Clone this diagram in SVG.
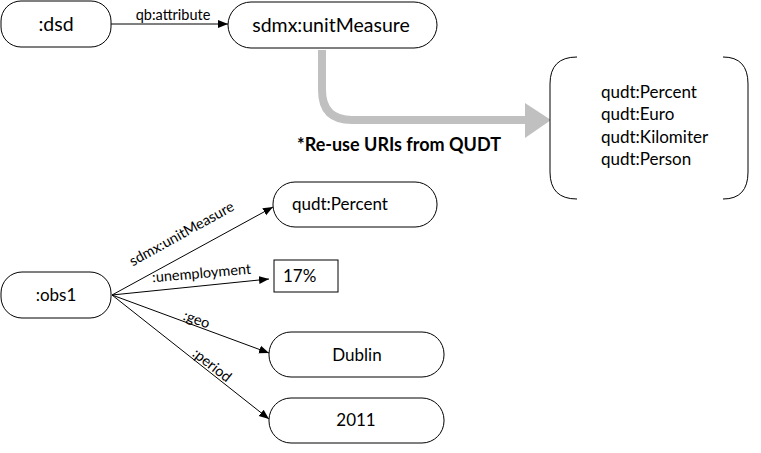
<svg xmlns="http://www.w3.org/2000/svg" width="761" height="453" viewBox="0 0 761 453">
<defs>
<style>
.node{fill:#fff;stroke:#000;stroke-width:1}
.t{font-family:Lato,"Liberation Sans",sans-serif;font-size:17px;fill:#000}
.tb{font-family:Lato,"Liberation Sans",sans-serif;font-size:19.5px;fill:#000}
.lbl{font-family:Lato,"Liberation Sans",sans-serif;font-size:14.5px;fill:#000}
.e{stroke:#000;stroke-width:1;fill:none;marker-end:url(#ah)}
</style>
<marker id="ah" viewBox="0 0 10 10" refX="10" refY="5" markerWidth="10" markerHeight="10" markerUnits="userSpaceOnUse" orient="auto">
<path d="M0,1 L10,5 L0,9 Z" fill="#000"/>
</marker>
</defs>
<rect width="761" height="453" fill="#fff"/>
<g id="connectors">
<line class="e" x1="111" y1="24" x2="228" y2="24"/>
<text class="lbl" x="173" y="20" text-anchor="middle" font-size="14px">qb:attribute</text>
<path d="M322,50 V90 Q322,120 352,120 H527" stroke="#c0c0c0" stroke-width="8" fill="none"/>
<path d="M525,103 L551,120 L525,138 Z" fill="#c0c0c0"/>
<line class="e" x1="112" y1="295" x2="273" y2="207"/>
<line class="e" x1="112" y1="295" x2="269" y2="279"/>
<line class="e" x1="112" y1="295" x2="269" y2="353"/>
<line class="e" x1="112" y1="295" x2="269" y2="419"/>
<text class="lbl" transform="translate(184,238) rotate(-29)" text-anchor="middle">sdmx:unitMeasure</text>
<text class="lbl" transform="translate(202,278) rotate(-5)" text-anchor="middle">:unemployment</text>
<text class="lbl" transform="translate(195,324) rotate(20)" text-anchor="middle">:geo</text>
<text class="lbl" transform="translate(209,369) rotate(38)" text-anchor="middle">:period</text>
</g>
<g id="dsd">
<rect class="node" x="1" y="1" width="110" height="46" rx="20"/>
<text class="tb" x="56" y="31" text-anchor="middle">:dsd</text>
</g>
<g id="unitMeasure">
<rect class="node" x="228" y="2" width="209" height="46" rx="23"/>
<text class="tb" x="331" y="32" text-anchor="middle">sdmx:unitMeasure</text>
</g>
<g id="note">
<text x="399" y="151" text-anchor="middle" font-family="Lato,'Liberation Sans',sans-serif" font-size="18px" font-weight="bold">*Re-use URIs from QUDT</text>
</g>
<g id="qudtList">
<path d="M577,57 Q550,57 550,84 V172 Q550,199 577,199" class="node" fill="none"/>
<path d="M723,57 Q748,57 748,84 V172 Q748,199 723,199" class="node" fill="none"/>
<text class="t" x="601" y="98">qudt:Percent</text>
<text class="t" x="601" y="120">qudt:Euro</text>
<text class="t" x="601" y="143">qudt:Kilomiter</text>
<text class="t" x="601" y="165">qudt:Person</text>
</g>
<g id="obs1">
<rect class="node" x="1" y="272" width="110" height="46" rx="21"/>
<text class="t" x="56" y="301" text-anchor="middle">:obs1</text>
</g>
<g id="percent">
<rect class="node" x="273" y="182" width="164" height="45" rx="22"/>
<text class="t" x="292" y="210">qudt:Percent</text>
</g>
<g id="pct17">
<rect class="node" x="274" y="260" width="64" height="32"/>
<text class="t" x="283" y="282">17%</text>
</g>
<g id="dublin">
<rect class="node" x="269" y="332" width="175" height="45" rx="22"/>
<text class="t" x="357" y="361" text-anchor="middle">Dublin</text>
</g>
<g id="y2011">
<rect class="node" x="269" y="398" width="175" height="45" rx="22"/>
<text class="t" x="356" y="426" text-anchor="middle">2011</text>
</g>
</svg>
